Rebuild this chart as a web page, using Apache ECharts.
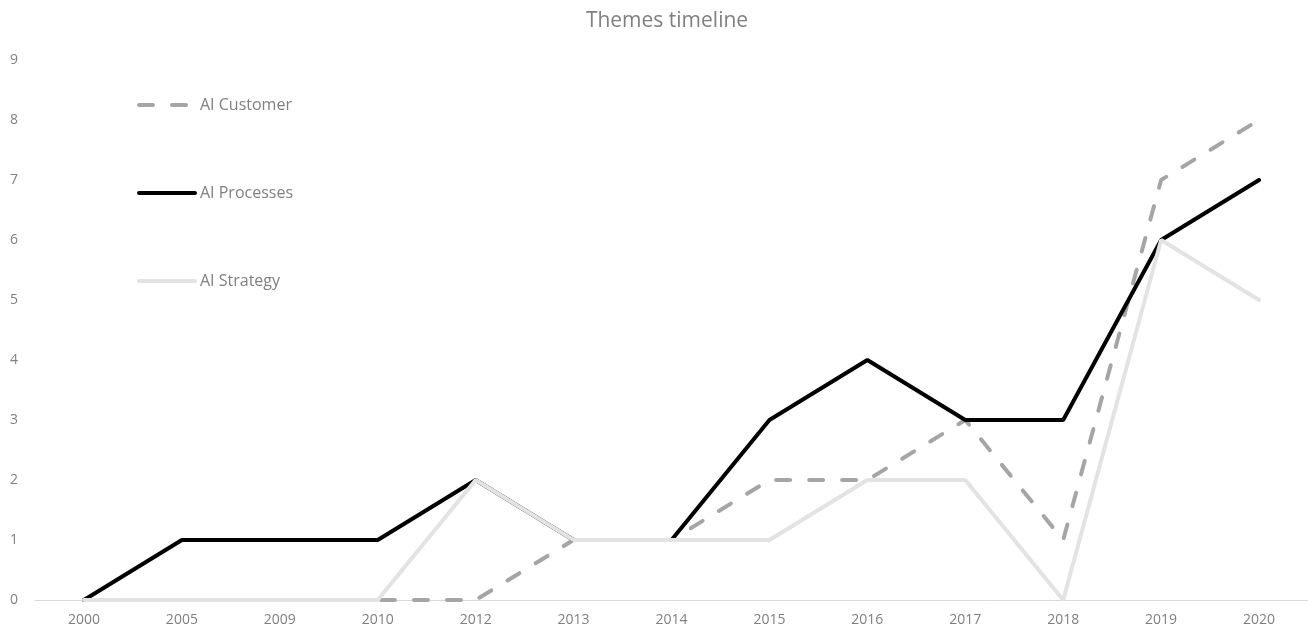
<!DOCTYPE html>
<html>
<head>
<meta charset="utf-8">
<script src="https://cdn.jsdelivr.net/npm/echarts@6/dist/echarts.min.js"></script>
<style>html,body{margin:0;padding:0;background:#fff;}#chart{width:1308px;height:636px;}</style>
</head>
<body>
<div id="chart"></div>
<script>
const categories = ['2000','2005','2009','2010','2012','2013','2014','2015','2016','2017','2018','2019','2020'];
const aiCustomer = [0,0,0,0,0,1,1,2,2,3,1,7,8];
const aiProcesses = [0,1,1,1,2,1,1,3,4,3,3,6,7];
const aiStrategy = [0,0,0,0,2,1,1,1,2,2,0,6,5];
const yTicks = {min:0, max:9, interval:1};

const font = 'Open Sans';
const textGray = '#808080';
const chart = echarts.init(document.getElementById('chart'), null, {renderer:'canvas'});
chart.setOption({
  animation:false,
  backgroundColor:'#fff',
  title:{text:'Themes timeline', left:662, top:6, textAlign:'center',
    textStyle:{fontFamily:font, fontSize:21, fontWeight:'normal', color:textGray}},
  legend:{orient:'vertical', left:132, top:92, itemWidth:56, itemHeight:18, itemGap:72,
    itemStyle:{color:'rgba(0,0,0,0)', borderWidth:0},
    lineStyle:{width:4, cap:'round'},
    textStyle:{fontFamily:font, fontSize:16, color:textGray},
    data:['AI Customer','AI Processes','AI Strategy']},
  grid:{left:35, right:0, top:60, bottom:36, containLabel:false},
  xAxis:{type:'category', data:categories, boundaryGap:true,
    axisLine:{lineStyle:{color:'#d9d9d9', width:1}},
    axisTick:{show:false},
    axisLabel:{fontFamily:font, fontSize:14, color:textGray, margin:13}},
  yAxis:{type:'value', min:yTicks.min, max:yTicks.max, interval:yTicks.interval,
    axisLine:{show:false}, axisTick:{show:false}, splitLine:{show:false},
    axisLabel:{fontFamily:font, fontSize:14, color:textGray, margin:21, align:'center'}},
  series:[
    {name:'AI Customer', type:'line', data:aiCustomer, symbol:'none',
      lineStyle:{color:'#a5a5a5', width:4, type:[14,19], cap:'round'}, itemStyle:{color:'#a5a5a5'}},
    {name:'AI Processes', type:'line', data:aiProcesses, symbol:'none',
      lineStyle:{color:'#000000', width:4, cap:'round'}, itemStyle:{color:'#000'}},
    {name:'AI Strategy', type:'line', data:aiStrategy, symbol:'none',
      lineStyle:{color:'#e3e3e3', width:4, cap:'round'}, itemStyle:{color:'#e3e3e3'}}
  ]
});
</script>
</body>
</html>
